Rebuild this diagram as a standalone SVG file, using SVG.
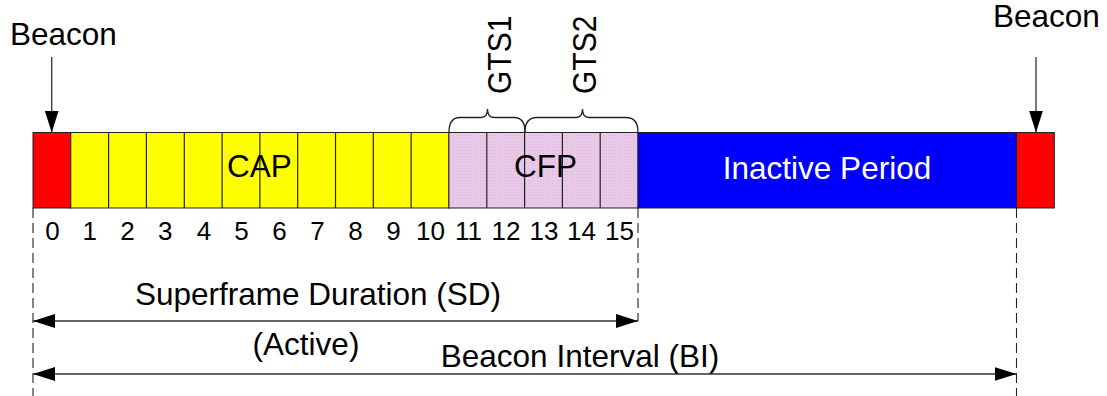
<svg xmlns="http://www.w3.org/2000/svg" width="1107" height="396" viewBox="0 0 1107 396">
  <style>
    text { font-family: "Liberation Sans", Arial, sans-serif; fill: #000; }
    .big { font-size: 31.5px; }
    .num { font-size: 26px; text-anchor: middle; }
    .slot { stroke: #222; stroke-width: 1; }
    .div { stroke: #222; stroke-width: 1.2; }
    .arrow { stroke: #333; stroke-width: 1.3; fill: none; }
    .dash { stroke: #222; stroke-width: 1.1; stroke-dasharray: 10 5; fill: none; }
    .brace { stroke: #222; stroke-width: 1.3; fill: none; }
  </style>
  <defs>
    <pattern id="cfpPat" patternUnits="userSpaceOnUse" width="3" height="3">
      <rect width="3" height="3" fill="#e8c9e8"/>
      <rect width="1" height="1" fill="#dab8da"/>
    </pattern>
    <marker id="ah" markerUnits="userSpaceOnUse" markerWidth="23" markerHeight="16" viewBox="0 0 23 16" refX="22" refY="8" orient="auto-start-reverse">
      <path d="M0,1 L22,8 L0,15 Z" fill="#000"/>
    </marker>
  </defs>

  <g id="beacon-start">
    <text class="big" x="10" y="45">Beacon</text>
    <rect x="33" y="132.5" width="37.8" height="75.5" fill="#ff0000" class="slot"/>
  </g>

  <g id="cap">
    <rect x="70.8" y="132.5" width="378.1" height="75.5" fill="#ffff00" class="slot"/>
    <g class="div">
      <line x1="108.6" y1="132.5" x2="108.6" y2="208"/>
      <line x1="146.4" y1="132.5" x2="146.4" y2="208"/>
      <line x1="184.3" y1="132.5" x2="184.3" y2="208"/>
      <line x1="222.1" y1="132.5" x2="222.1" y2="208"/>
      <line x1="259.9" y1="132.5" x2="259.9" y2="208"/>
      <line x1="297.7" y1="132.5" x2="297.7" y2="208"/>
      <line x1="335.5" y1="132.5" x2="335.5" y2="208"/>
      <line x1="373.3" y1="132.5" x2="373.3" y2="208"/>
      <line x1="411.1" y1="132.5" x2="411.1" y2="208"/>
    </g>
    <text class="big" x="259.5" y="177" text-anchor="middle">CAP</text>
  </g>

  <g id="cfp">
    <rect x="448.9" y="132.5" width="189.1" height="75.5" fill="url(#cfpPat)" class="slot"/>
    <g class="div">
      <line x1="486.8" y1="132.5" x2="486.8" y2="208"/>
      <line x1="524.6" y1="132.5" x2="524.6" y2="208"/>
      <line x1="562.4" y1="132.5" x2="562.4" y2="208"/>
      <line x1="600.2" y1="132.5" x2="600.2" y2="208"/>
    </g>
    <text class="big" x="545.5" y="177" text-anchor="middle">CFP</text>
  </g>

  <g id="gts1">
    <path class="brace" d="M449,132 Q449,117.5 460,117.5 L481,117.5 Q487.5,117.5 487.5,109 Q487.5,117.5 494,117.5 L514,117.5 Q525,117.5 525,132"/>
    <text class="big" transform="translate(511,94) rotate(-90) scale(1,1.08)" x="0" y="0" style="font-size:30px">GTS1</text>
  </g>

  <g id="gts2">
    <path class="brace" d="M525,132 Q525,117.5 537,117.5 L576,117.5 Q582.5,117.5 582.5,109 Q582.5,117.5 589,117.5 L626,117.5 Q638,117.5 638,132"/>
    <text class="big" transform="translate(596,94) rotate(-90) scale(1,1.08)" x="0" y="0" style="font-size:30px">GTS2</text>
  </g>

  <g id="inactive">
    <rect x="638" y="132.5" width="378.5" height="75.5" fill="#0000ff" class="slot"/>
    <text class="big" x="827" y="179" text-anchor="middle" style="fill:#ffffff">Inactive Period</text>
  </g>

  <g id="beacon-end">
    <text class="big" x="993" y="27">Beacon</text>
    <rect x="1016.5" y="132.5" width="37.8" height="75.5" fill="#ff0000" class="slot"/>
  </g>

  <g id="slot-numbers">
    <text class="num" x="52.5" y="240">0</text>
    <text class="num" x="89.7" y="240">1</text>
    <text class="num" x="127.5" y="240">2</text>
    <text class="num" x="165.3" y="240">3</text>
    <text class="num" x="204" y="240">4</text>
    <text class="num" x="241.5" y="240">5</text>
    <text class="num" x="279.5" y="240">6</text>
    <text class="num" x="317.5" y="240">7</text>
    <text class="num" x="355.5" y="240">8</text>
    <text class="num" x="393.5" y="240">9</text>
    <text class="num" x="430.5" y="240">10</text>
    <text class="num" x="468.5" y="240">11</text>
    <text class="num" x="506" y="240">12</text>
    <text class="num" x="544" y="240">13</text>
    <text class="num" x="581.5" y="240">14</text>
    <text class="num" x="619.5" y="240">15</text>
  </g>

  <g id="labels">
    <text class="big" x="318" y="305" text-anchor="middle">Superframe Duration (SD)</text>
    <text class="big" x="306" y="355" text-anchor="middle">(Active)</text>
    <text class="big" x="580" y="367" text-anchor="middle">Beacon Interval (BI)</text>
  </g>

  <g id="connectors">
    <line class="arrow" x1="51.7" y1="57" x2="51.7" y2="132.5" marker-end="url(#ah)"/>
    <line class="arrow" x1="1036" y1="57" x2="1036" y2="132.5" marker-end="url(#ah)"/>
    <line class="dash" x1="33" y1="208" x2="33" y2="396"/>
    <line class="dash" x1="638" y1="208" x2="638" y2="321"/>
    <line class="dash" x1="1016.5" y1="208" x2="1016.5" y2="396"/>
    <line class="arrow" x1="33" y1="321" x2="638" y2="321" marker-start="url(#ah)" marker-end="url(#ah)"/>
    <line class="arrow" x1="33" y1="374" x2="1016.5" y2="374" marker-start="url(#ah)" marker-end="url(#ah)"/>
  </g>
</svg>
